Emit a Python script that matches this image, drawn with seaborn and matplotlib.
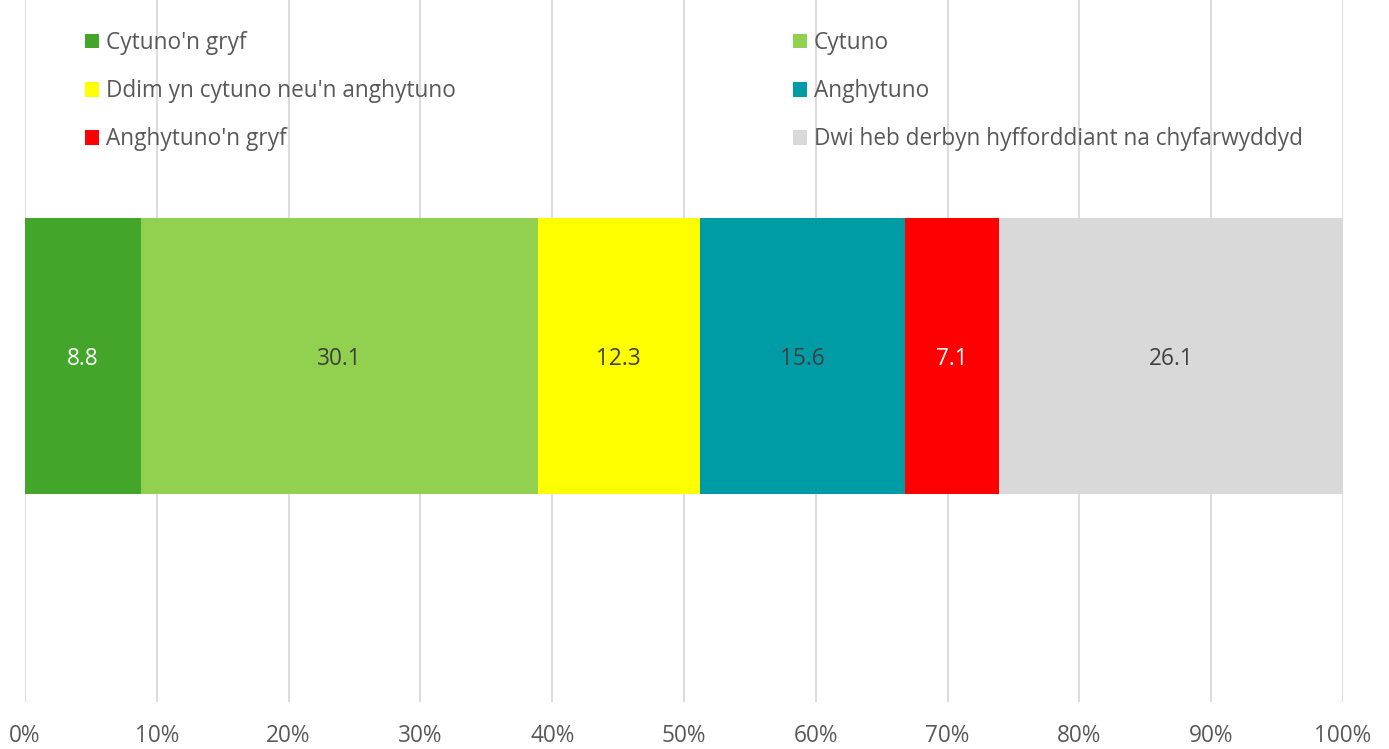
import matplotlib
matplotlib.use("Agg")
import matplotlib.pyplot as plt
import seaborn as sns
import pandas as pd
import numpy as np
from matplotlib.patches import Patch

categories = ["Cytuno'n gryf", "Cytuno", "Ddim yn cytuno neu'n anghytuno",
              "Anghytuno", "Anghytuno'n gryf",
              "Dwi heb derbyn hyfforddiant na chyfarwyddyd"]
values = [8.8, 30.1, 12.3, 15.6, 7.1, 26.1]
colors = ["#43A52A", "#92D050", "#FFFF00", "#009CA6", "#FF0000", "#D9D9D9"]
label_colors = ["white", "#404040", "#404040", "#404040", "white", "#404040"]
xticks = list(range(0, 101, 10))
xticklabels = [f"{t}%" for t in xticks]

sns.set_theme(style="white")
plt.rcParams['font.family'] = ['Open Sans', 'DejaVu Sans']

FS = 16.3
W, H = 1389, 749
fig = plt.figure(figsize=(W / 100, H / 100), dpi=100)
ax = fig.add_axes([25 / W, 1 - 702 / H, 1318 / W, 702 / H])

cum = np.cumsum(values)
df = pd.DataFrame({"cat": categories, "cum": cum, "row": [""] * len(values)})
palette = dict(zip(categories, colors))
sns.barplot(data=df, x="cum", y="row", hue="cat", hue_order=categories[::-1],
            palette=palette, dodge=False, orient="h", width=0.8, saturation=1,
            linewidth=0, legend=False, ax=ax, zorder=3)

for c, v, lc in zip(cum, values, label_colors):
    ax.text(c - v / 2, 0.01, f"{v:.1f}", ha="center", va="center",
            color=lc, fontsize=FS, zorder=4)

ax.set_xlim(0, 100)
ax.set_ylim(1.003, -1.032)
ax.set_xticks(xticks)
ax.set_xticklabels(xticklabels)
ax.set_yticks([])
ax.set_xlabel("")
ax.set_ylabel("")
ax.grid(axis="x", color="#D9D9D9", linewidth=1.3, zorder=0)
ax.grid(axis="y", visible=False)
ax.set_axisbelow(True)
for s in ax.spines.values():
    s.set_visible(False)
ax.tick_params(axis="x", length=0, pad=16, labelsize=FS, labelcolor="#595959")

handles = [Patch(facecolor=c, edgecolor="none") for c in colors]
common = dict(loc="upper left", frameon=False, fontsize=FS, labelcolor="#595959",
              handlelength=0.62, handleheight=0.62, handletextpad=0.3,
              labelspacing=1.07, borderpad=0, borderaxespad=0)
leg1 = fig.legend([handles[i] for i in (0, 2, 4)], [categories[i] for i in (0, 2, 4)],
                  bbox_to_anchor=(85 / W, 1 - 31 / H), **common)
leg2 = fig.legend([handles[i] for i in (1, 3, 5)], [categories[i] for i in (1, 3, 5)],
                  bbox_to_anchor=(793 / W, 1 - 31 / H), **common)

fig.savefig("out.png", dpi=100)
